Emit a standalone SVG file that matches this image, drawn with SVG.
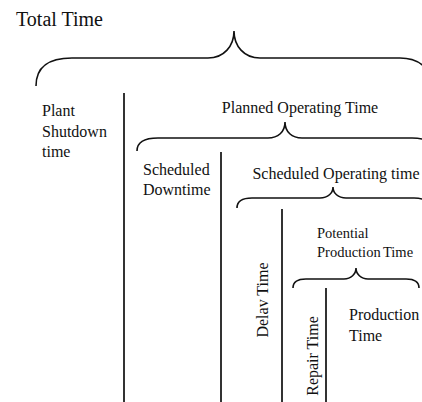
<svg xmlns="http://www.w3.org/2000/svg" width="422" height="402" viewBox="0 0 422 402">
<style>
text{font-family:"Liberation Serif","Times New Roman",serif;fill:#111;font-size:16px}
.brace{fill:none;stroke:#111;stroke-width:1.6}
.div{stroke:#333;stroke-width:2}
</style>
<rect width="422" height="402" fill="#fff"/>
<g id="connectors">
<path class="brace" d="M36,86 C36,68 48,58 72,58 L208,58 C224,58 234,46 234,31 C234,46 244,58 260,58 L400,58 C418,58 432,68 432,86"/>
<path class="brace" d="M137,151 C137,143 144,138 158,138 L268,138 C278,138 285,132 285,122 C285,132 292,138 302,138 L412,138 C426,138 433,143 433,151"/>
<path class="brace" d="M237,208 C237,202 242,198 252,198 L320,198 C328,198 333,193 333,187 C333,193 338,198 346,198 L414,198 C424,198 429,202 429,208"/>
<path class="brace" d="M293,288 C293,282 298,279 306,279 L344,279 C351,279 356,274 356,268 C356,274 361,279 368,279 L406,279 C414,279 419,282 419,288"/>
<line class="div" x1="124" y1="93" x2="124" y2="402"/>
<line class="div" x1="221" y1="152" x2="221" y2="402"/>
<line class="div" x1="282" y1="209" x2="282" y2="402"/>
<line class="div" x1="326" y1="288" x2="326" y2="402"/>
</g>
<g id="total"><text x="16" y="26" style="font-size:20px">Total Time</text></g>
<g id="plant-shutdown"><text x="42" y="116">Plant</text><text x="42" y="137">Shutdown</text><text x="42" y="157">time</text></g>
<g id="planned-operating"><text x="300" y="113" text-anchor="middle">Planned Operating Time</text></g>
<g id="scheduled-downtime"><text x="143" y="175">Scheduled</text><text x="143" y="195">Downtime</text></g>
<g id="scheduled-operating"><text x="336" y="179" text-anchor="middle">Scheduled Operating time</text></g>
<g id="delay"><text transform="translate(268,300) rotate(-90)" text-anchor="middle">Delav Time</text></g>
<g id="potential"><text x="317" y="238" style="font-size:14.5px">Potential</text><text x="317" y="257" style="font-size:14.5px;word-spacing:-1px">Production Time</text></g>
<g id="repair"><text transform="translate(318,356) rotate(-90)" text-anchor="middle">Repair Time</text></g>
<g id="production"><text x="349" y="320">Production</text><text x="349" y="341">Time</text></g>
</svg>
